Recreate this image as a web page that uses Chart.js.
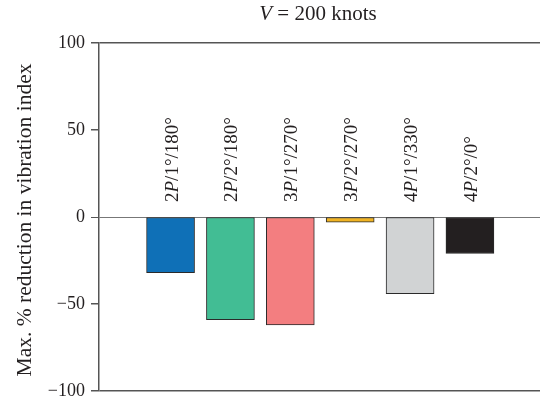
<!DOCTYPE html>
<html>
<head>
<meta charset="utf-8">
<script src="https://cdn.jsdelivr.net/npm/chart.js@4/dist/chart.umd.min.js"></script>
<style>
html,body{margin:0;padding:0;background:#fff;}
#wrap{width:540px;height:402px;position:relative;}
</style>
</head>
<body>
<div id="wrap"><canvas id="c" width="540" height="402"></canvas></div>
<script>
const categories = ['2P/1°/180°', '2P/2°/180°', '3P/1°/270°', '3P/2°/270°', '4P/1°/330°', '4P/2°/0°'];
const values = [-32, -59, -62, -3, -44, -21];
const barColors = ['#0f70b7', '#42bd94', '#f37e80', '#f0b323', '#d1d3d4', '#231f20'];
const yTicks = [100, 50, 0, -50, -100];
const titleParts = [['V', true], [' = 200 knots', false]];
const yTitle = 'Max. % reduction in vibration index';

const FONT = '"Liberation Serif", "Times New Roman", serif';

function drawParts(ctx, parts, x, y, align, size) {
  let total = 0;
  const widths = parts.map(([t, it]) => {
    ctx.font = (it ? 'italic ' : 'normal ') + size + 'px ' + FONT;
    const w = ctx.measureText(t).width; total += w; return w;
  });
  let cx = align === 'center' ? x - total / 2 : x;
  ctx.textAlign = 'left';
  parts.forEach(([t, it], i) => {
    ctx.font = (it ? 'italic ' : 'normal ') + size + 'px ' + FONT;
    ctx.fillText(t, cx, y);
    cx += widths[i];
  });
}
function splitLabel(s) {
  const idx = s.indexOf('P');
  return [[s.slice(0, idx), false], ['P', true], [s.slice(idx + 1), false]];
}

const textPlugin = {
  id: 'texts',
  afterDraw(chart) {
    const ctx = chart.ctx;
    const xs = chart.scales.x, ys = chart.scales.y;
    ctx.save();
    ctx.fillStyle = '#231f20';
    ctx.textBaseline = 'middle';
    drawParts(ctx, titleParts, 318, 14, 'center', 21);
    ctx.save();
    ctx.translate(25, 220);
    ctx.rotate(-Math.PI / 2);
    drawParts(ctx, [[yTitle, false]], 0, 0, 'center', 21.5);
    ctx.restore();
    categories.forEach((lab, i) => {
      const px = xs.getPixelForValue(i) + 2;
      const py = ys.getPixelForValue(0) - 15;
      ctx.save();
      ctx.translate(px, py);
      ctx.rotate(-Math.PI / 2);
      drawParts(ctx, splitLabel(lab), 0, 0, 'left', 19);
      ctx.restore();
    });
    ctx.restore();
  }
};

new Chart(document.getElementById('c'), {
  type: 'bar',
  data: {
    datasets: [{
      data: values.map((v, i) => ({ x: i, y: v })),
      backgroundColor: barColors,
      borderColor: '#2a2a2a',
      borderWidth: 1,
      borderSkipped: false,
      barThickness: 48
    }]
  },
  options: {
    responsive: false,
    animation: false,
    layout: { padding: { top: 43, bottom: 11, left: 0, right: 0 } },
    plugins: { legend: { display: false }, tooltip: { enabled: false }, title: { display: false } },
    scales: {
      x: {
        type: 'linear',
        display: false,
        offset: false,
        min: -1.195,
        max: 6.17
      },
      y: {
        min: -100,
        max: 100,
        afterFit(scale) { scale.width = 99; scale.paddingTop = 0; scale.paddingBottom = 0; },
        afterBuildTicks(scale) { scale.ticks = yTicks.map(v => ({ value: v })); },
        border: { color: '#555', width: 1.5 },
        grid: {
          color: c => (c.tick && (c.tick.value === 100 || c.tick.value === -100)) ? '#555' : (c.tick && c.tick.value === 0 ? '#777' : 'rgba(0,0,0,0)'),
          lineWidth: c => (c.tick && c.tick.value === 0) ? 1 : 1.5,
          tickColor: '#555',
          tickLength: 8,
          drawTicks: true
        },
        ticks: {
          padding: 6,
          color: '#231f20',
          font: { family: FONT, size: 18 },
          callback: v => v < 0 ? '\u2212' + Math.abs(v) : String(v)
        }
      }
    }
  },
  plugins: [textPlugin]
});
</script>
</body>
</html>
